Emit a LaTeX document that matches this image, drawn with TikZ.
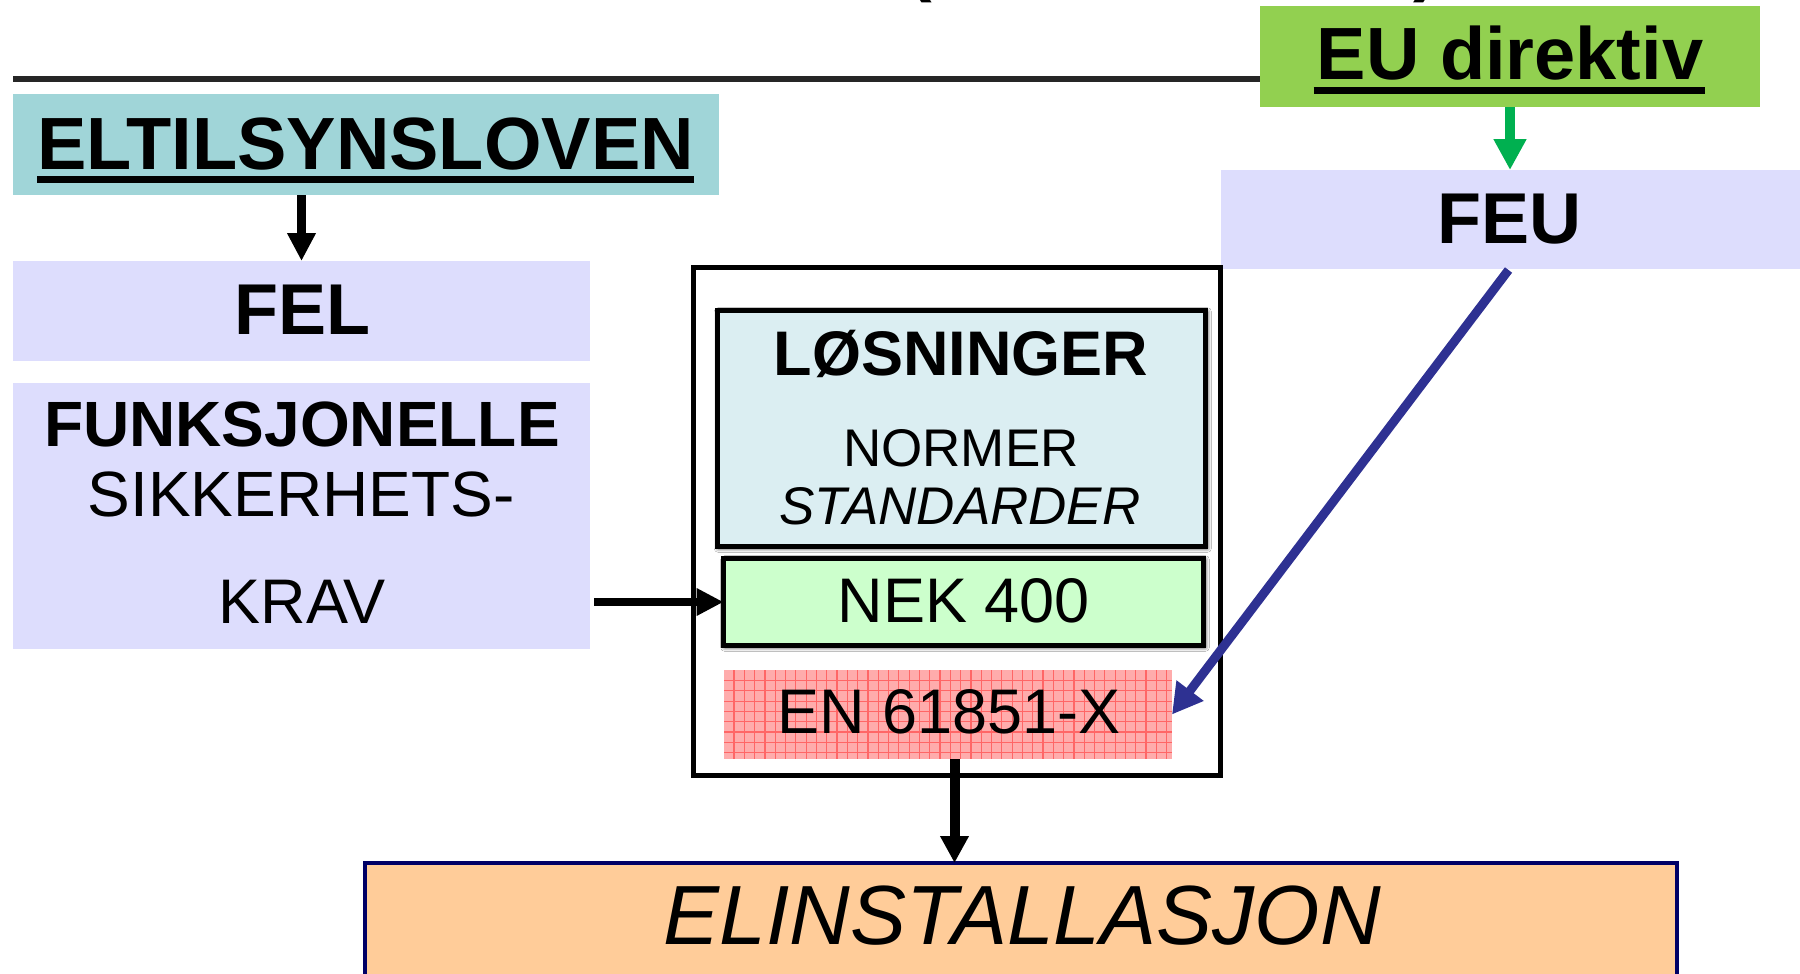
\documentclass[tikz,border=0pt]{standalone}
\usepackage{fontspec}
\setmainfont{Liberation Sans}
\usetikzlibrary{arrows.meta,fit,shadows.blur}

\definecolor{tealbox}{RGB}{160,213,216}
\definecolor{lavbox}{RGB}{221,221,253}
\definecolor{eugreen}{RGB}{146,208,80}
\definecolor{arrgreen}{RGB}{0,176,80}
\definecolor{solcyan}{RGB}{219,238,242}
\definecolor{nekgreen}{RGB}{204,255,204}
\definecolor{enpink}{RGB}{255,172,172}
\definecolor{engrid}{RGB}{255,102,102}
\definecolor{instpeach}{RGB}{255,204,153}
\definecolor{instnavy}{RGB}{0,0,102}
\definecolor{feublue}{RGB}{46,49,146}
\definecolor{rulegray}{RGB}{38,38,38}

\newcommand{\fsz}[1]{\fontsize{#1}{#1}\selectfont}

\begin{document}
\begin{tikzpicture}[x=1pt,y=-1pt,
  region/.style={inner sep=0pt, outer sep=0pt},
  lbl/.style={anchor=base, inner sep=0pt, outer sep=0pt, text=black},
  softshadow/.style={blur shadow={shadow xshift=1.5pt, shadow yshift=-1.5pt,
      shadow blur radius=4.5pt, shadow opacity=95}},
  headbold/.style={font=\fsz{#1}\bfseries},
  plainfont/.style={font=\fsz{#1}},
  italfont/.style={font=\fsz{#1}\itshape},
]
\useasboundingbox (0,0) rectangle (1800,974);

% remnants of the heading line above the picture
\node[lbl, anchor=base west, headbold=74] (lparen) at (907,-12) {(};
\node[lbl, anchor=base west, headbold=74] (rparen) at (1413,-12) {)};

% boxes
\node[region, fill=eugreen, fit={(1260,6) (1760,107)}] (eu) {};
\node[region, fill=lavbox, fit={(1221,170) (1800,269)}] (feu) {};
\node[region, fill=tealbox, fit={(13,94) (719,195)}] (eltil) {};
\node[region, fill=lavbox, fit={(13,261) (590,361)}] (fel) {};
\node[region, fill=lavbox, fit={(13,383) (590,649)}] (funk) {};

% horizontal rule running into the EU box
\coordinate (rulestart) at (13,79);
\draw[rulegray, line width=6pt] (rulestart) -- (rulestart -| eu.west);

% frame around the solutions
\node[region, draw=black, fill=white, line width=5pt,
      fit={(693.5,267.5) (1220.5,775)}] (frame) {};
\node[region, draw=black, line width=5pt, fill=solcyan, softshadow,
      fit={(717,310.5) (1205.5,546.5)}] (los) {};
\node[region, draw=black, line width=5pt, fill=nekgreen, softshadow,
      fit={(723.5,558.5) (1203.5,645.5)}] (nek) {};
\node[region, fill=enpink, fit={(724,670) (1172,759)}] (en) {};
\begin{scope}
  \clip (en.north west) rectangle (en.south east);
  \foreach \gx in {734,744.3,...,1172}
    \draw[engrid, line width=1.2pt] (\gx,670) -- (\gx,759);
  \foreach \gy in {680.5,690.8,...,759}
    \draw[engrid, line width=1.2pt] (724,\gy) -- (1172,\gy);
\end{scope}

\node[region, draw=instnavy, line width=3.5pt, fill=instpeach,
      fit={(365,863) (1677,1010)}] (inst) {};

% texts
\node[lbl, headbold=74] (eutxt) at (1510,80) {EU direktiv};
\draw[line width=7pt] ([xshift=-3pt,yshift=-11pt]eutxt.base west) -- ([xshift=2pt,yshift=-11pt]eutxt.base east);
\node[lbl, headbold=72] (feutxt) at (1509,243) {FEU};
\node[lbl, headbold=74] (eltiltxt) at (365.5,169) {ELTILSYNSLOVEN};
\draw[line width=7pt] ([yshift=-10pt]eltiltxt.base west) -- ([yshift=-10pt]eltiltxt.base east);
\node[lbl, headbold=72] (feltxt) at (302,334.5) {FEL};
\node[lbl, headbold=64] (funktxt1) at (302,446) {FUNKSJONELLE};
\node[lbl, plainfont=64] (funktxt2) at (301,516) {SIKKERHETS-};
\node[lbl, plainfont=63] (funktxt3) at (302,623) {KRAV};
\node[lbl, headbold=63] (lostxt) at (961,375) {LØSNINGER};
\node[lbl, plainfont=53] (normtxt) at (961,466) {NORMER};
\node[lbl, italfont=53] (stdtxt) at (960,524) {STANDARDER};
\node[lbl, plainfont=63] (nektxt) at (964,622) {NEK 400};
\node[lbl, plainfont=63] (entxt) at (949,733) {EN 61851-X};
\node[lbl, italfont=84] (insttxt) at (1022,944) {ELINSTALLASJON};

% connectors
\draw[line width=9pt, -{Triangle[length=28pt,width=27pt]}]
  (eltil.south -| fel.north) -- (fel.north);
\draw[arrgreen, line width=10.5pt, -{Triangle[length=31pt,width=31pt]}]
  (eu.south) -- (eu.south |- feu.north);
\draw[line width=8pt, -{Triangle[length=27pt,width=26pt]}]
  ([xshift=4pt]funk.east |- nek.west) -- (nek.west);
\draw[feublue, line width=9pt, -{Triangle[length=30pt,width=32pt]}]
  ([xshift=-2pt,yshift=-1pt]feu.south) -- (en.east);
\draw[line width=10pt, -{Triangle[length=27pt,width=27pt]}]
  ([xshift=6.5pt]en.south) -- ([xshift=6.5pt]en.south |- inst.north);
\end{tikzpicture}
\end{document}
